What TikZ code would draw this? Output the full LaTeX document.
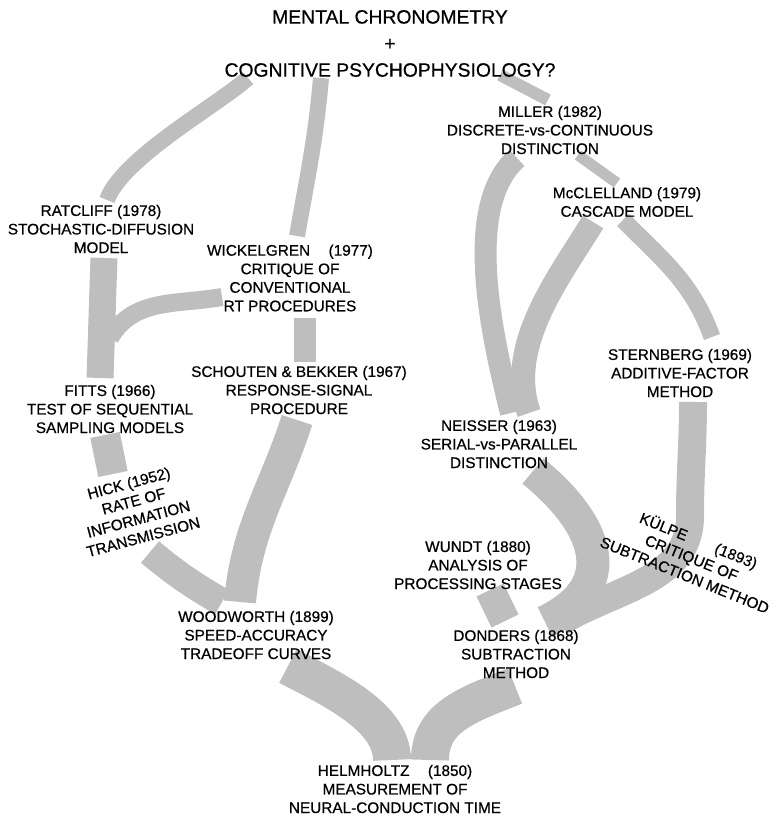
\documentclass[tikz,border=0pt]{standalone}
\usepackage{fontspec}
\setmainfont{Liberation Sans}[FakeBold=0.6]
\definecolor{BandGray}{RGB}{190, 190, 190}
\usetikzlibrary{calc, backgrounds}

\begin{document}
\begin{tikzpicture}[x=0.75pt, y=0.75pt,
  lbl/.style={align=center, inner sep=1pt, font=\fontsize{11.5}{13.9}\selectfont},
  band/.style={draw=BandGray, line width=#1*0.75pt}, band/.default=16]
\useasboundingbox (0,0) rectangle (773,816);

\node[lbl, font=\fontsize{14.5}{19.9}\selectfont] (title) at (390,772.5) {MENTAL CHRONOMETRY\\+\\COGNITIVE PSYCHOPHYSIOLOGY?};
\node[lbl] (miller) at (550,686) {MILLER (1982)\\DISCRETE-vs-CONTINUOUS\\DISTINCTION};
\node[lbl] (mcclelland) at (627,614) {McCLELLAND (1979)\\CASCADE MODEL};
\node[lbl] (ratcliff) at (101,587) {RATCLIFF (1978)\\STOCHASTIC-DIFFUSION\\MODEL};
\node[lbl] (wickelgren) at (290,538) {WICKELGREN\hspace{1.2em}(1977)\\CRITIQUE OF\\CONVENTIONAL\\RT PROCEDURES};
\node[lbl] (sternberg) at (680,443) {STERNBERG (1969)\\ADDITIVE-FACTOR\\METHOD};
\node[lbl] (schouten) at (299,426) {SCHOUTEN \& BEKKER (1967)\\RESPONSE-SIGNAL\\PROCEDURE};
\node[lbl] (fitts) at (110,407) {FITTS (1966)\\TEST OF SEQUENTIAL\\SAMPLING MODELS};
\node[lbl] (neisser) at (499,372) {NEISSER (1963)\\SERIAL-vs-PARALLEL\\DISTINCTION};
\node[lbl, rotate=15] (hick) at (136,306) {HICK (1952)\\RATE OF\\INFORMATION\\TRANSMISSION};
\node[lbl, rotate=-22] (kulpe) at (692,259) {KÜLPE\hspace{2em}(1893)\\CRITIQUE OF\\SUBTRACTION METHOD};
\node[lbl] (wundt) at (478,251) {WUNDT (1880)\\ANALYSIS OF\\PROCESSING STAGES};
\node[lbl] (woodworth) at (256,181) {WOODWORTH (1899)\\SPEED-ACCURACY\\TRADEOFF CURVES};
\node[lbl] (donders) at (516,162) {DONDERS (1868)\\SUBTRACTION\\METHOD};
\node[lbl] (helmholtz) at (395,27) {HELMHOLTZ\hspace{1.2em}(1850)\\MEASUREMENT OF\\NEURAL-CONDUCTION TIME};

\begin{scope}[on background layer]
\draw[band=16] ($(title)+(-142,-34.5)$) .. controls ($(title)+(-172,-61.5)$) and ($(ratcliff)+(21,71)$) .. ($(ratcliff)+(6,29)$);
\draw[band=16] ($(title)+(-69,-34.5)$) to[out=-95,in=80] ($(wickelgren)+(7,42)$);
\draw[band=12] ($(title)+(110,-31.5)$) -- ($(miller)+(-2,30)$);
\draw[band=11] ($(miller)+(28,-25)$) -- ($(mcclelland)+(-10,19)$);
\draw[band=22] ($(miller)+(-33,-28)$) .. controls ($(miller)+(-88,-76)$) and ($(neisser)+(-7,108)$) .. ($(neisser)+(12,31)$);
\draw[band=24] ($(mcclelland)+(-34,-20)$) .. controls ($(mcclelland)+(-67,-74)$) and ($(neisser)+(6,98)$) .. ($(neisser)+(30,31)$);
\draw[band=17] ($(mcclelland)+(-4,-18)$) to[out=-45,in=110] ($(sternberg)+(32,36)$);
\draw[band=28] ($(sternberg)+(13,-29)$) to[out=-90,in=90] ($(kulpe)+(-2,41)$) .. controls ($(kulpe)+(-2,-24)$) and ($(donders)+(100,66)$) .. ($(donders)+(44,32)$);
\draw[band=33] ($(neisser)+(34,-27)$) .. controls ($(neisser)+(101,-82)$) and ($(donders)+(104,68)$) .. ($(donders)+(29,32)$);
\draw[band=30] ($(wundt)+(12,-25)$) -- ($(donders)+(-11,33)$);
\draw[band=38] ($(donders)+(-1,-32)$) .. controls ($(donders)+(-46,-50)$) and ($(helmholtz)+(35,73)$) .. ($(helmholtz)+(35,29)$);
\draw[band=38] ($(woodworth)+(32,-31)$) .. controls ($(woodworth)+(74,-53)$) and ($(helmholtz)+(-3,73)$) .. ($(helmholtz)+(-3,29)$);
\draw[band=27] ($(ratcliff)+(3,-29)$) to[out=-92,in=88] ($(fitts)+(-10,31)$);
\draw[band=18] ($(wickelgren)+(-68,-19)$) to[out=190,in=60] ($(fitts)+(0,71)$);
\draw[band=22] ($(wickelgren)+(15,-40)$) -- ($(schouten)+(6,28)$);
\draw[band=30] ($(fitts)+(-5,-26)$) -- ($(hick)+(-23,36)$);
\draw[band=28] ($(hick)+(14,-42)$) to[out=-40,in=150] ($(woodworth)+(-34,33)$);
\draw[band=32] ($(schouten)+(-2,-30)$) to[out=-108,in=85] ($(woodworth)+(-16,33)$);
\end{scope}
\end{tikzpicture}
\end{document}
